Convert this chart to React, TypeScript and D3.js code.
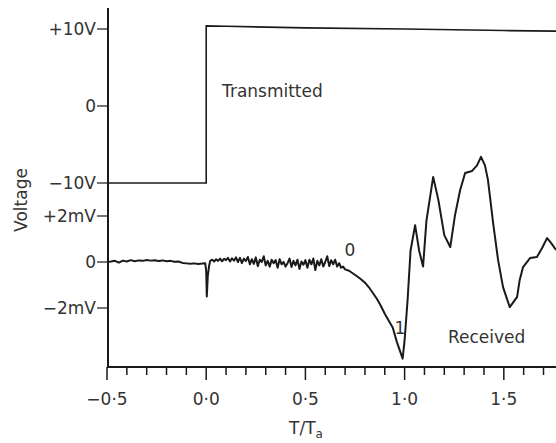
import React from "react";
import * as d3 from "d3";

const W = 556;
const H = 443;

// Transmitted signal (T/Ta, volts)
const transT = [-0.5, 0.0, 0.0, 0.1, 0.5, 1.0, 1.5, 1.763];
const transV = [-10, -10, 10.4, 10.35, 10.15, 10.0, 9.8, 9.72];

// Received signal (T/Ta, mV)
const recvT = [
  -0.5, -0.48, -0.46, -0.44, -0.42, -0.4, -0.38, -0.36, -0.34, -0.32, -0.3, -0.28, -0.26, -0.24, -0.22, -0.2,
  -0.18, -0.16, -0.14, -0.12, -0.1, -0.08, -0.06, -0.04, -0.02, -0.005, 0.0, 0.003, 0.008, 0.015,
  0.02, 0.03, 0.04, 0.05, 0.06, 0.07, 0.08, 0.09, 0.1, 0.11, 0.12, 0.13, 0.14, 0.15, 0.16, 0.17, 0.18, 0.19,
  0.2, 0.21, 0.22, 0.23, 0.24, 0.25, 0.26, 0.27, 0.28, 0.29, 0.3, 0.31, 0.32, 0.33, 0.34, 0.35, 0.36, 0.37,
  0.38, 0.39, 0.4, 0.41, 0.42, 0.43, 0.44, 0.45, 0.46, 0.47, 0.48, 0.49, 0.5, 0.51, 0.52, 0.53, 0.54, 0.55,
  0.56, 0.57, 0.58, 0.59, 0.6, 0.61, 0.62, 0.63, 0.64, 0.65, 0.66, 0.67, 0.68, 0.69, 0.7,
  0.72, 0.74, 0.76, 0.78, 0.8, 0.82, 0.84, 0.86, 0.88, 0.9, 0.92, 0.94, 0.96, 0.98, 0.99, 1.0, 1.015, 1.03,
  1.053, 1.073, 1.093, 1.11, 1.144, 1.17, 1.2, 1.23, 1.254, 1.28, 1.305, 1.34, 1.365, 1.385, 1.405, 1.42,
  1.446, 1.471, 1.496, 1.53, 1.567, 1.58, 1.597, 1.632, 1.667, 1.693, 1.718, 1.738, 1.763,
];
const recvV = [
  0.0, 0.02, 0.05, -0.03, 0.06, 0.02, 0.08, 0.03, 0.07, 0.05, 0.09, 0.06, 0.08, 0.04, 0.07, 0.03,
  0.05, 0.01, 0.02, -0.04, -0.06, -0.08, -0.06, -0.09, -0.07, -0.05, -0.4, -1.5, -0.6, -0.15,
  0.05, 0.1, 0.02, 0.12, 0.05, 0.15, 0.03, 0.14, 0.08, 0.18, 0.02, 0.16, 0.06, 0.2, 0.0, 0.18, -0.05, 0.15,
  0.04, 0.22, -0.1, 0.12, -0.08, 0.2, -0.18, 0.1, 0.0, 0.25, -0.15, 0.05, -0.2, 0.1, -0.05, 0.08, -0.25, 0.12,
  -0.1, 0.0, -0.2, -0.05, 0.15, -0.22, 0.05, -0.15, 0.1, -0.3, 0.02, -0.12, 0.08, -0.25, 0.1, -0.1, 0.15, -0.35,
  0.05, -0.15, 0.12, -0.2, 0.0, 0.25, -0.18, 0.08, -0.1, 0.1, -0.2, -0.05, -0.25, -0.2, -0.32,
  -0.38, -0.5, -0.62, -0.75, -0.9, -1.1, -1.35, -1.6, -1.9, -2.25, -2.55, -2.85, -3.45, -3.95, -4.2, -3.4, -1.65, 0.5,
  1.6, 0.5, -0.2, 1.8, 3.7, 2.7, 1.17, 0.65, 2.04, 3.13, 3.87, 3.96, 4.2, 4.57, 4.2, 3.57,
  1.7, 0.09, -1.09, -1.96, -1.52, -0.78, -0.22, 0.17, 0.22, 0.61, 1.04, 0.83, 0.52,
];

const xMajorTicks = [-0.5, 0.0, 0.5, 1.0, 1.5];
const xMajorLabels = ["\u22120\u00b75", "0\u00b70", "0\u00b75", "1\u00b70", "1\u00b75"];
const xMinorTicks = [
  -0.4, -0.3, -0.2, -0.1, 0.1, 0.2, 0.3, 0.4, 0.6, 0.7, 0.8, 0.9, 1.1, 1.2, 1.3, 1.4, 1.6, 1.7,
];
const voltTicks = [10, 0, -10];
const voltLabels = ["+10V", "0", "\u221210V"];
const mvTicks = [2, 0, -2];
const mvLabels = ["+2mV", "0", "\u22122mV"];

const FONT = "'DejaVu Sans', sans-serif";
const INK = "#1a1a1a";

export default function App() {
  const axisX = 108;
  const axisY = 367;
  const x = d3.scaleLinear().domain([-0.5, 1.763]).range([107, 556]);
  const yV = d3.scaleLinear().domain([-10, 10]).range([183, 29]);
  const yMv = d3.scaleLinear().domain([-2, 2]).range([308, 216]);

  const transData = transT.map((t, i) => [t, transV[i]] as [number, number]);
  const recvData = recvT.map((t, i) => [t, recvV[i]] as [number, number]);

  const transLine = d3
    .line<[number, number]>()
    .x((d) => x(d[0]))
    .y((d) => yV(d[1]));
  const recvLine = d3
    .line<[number, number]>()
    .x((d) => x(d[0]))
    .y((d) => yMv(d[1]));

  return (
    <div style={{ position: "absolute", left: 0, top: 0 }}>
      <svg width={W} height={H} style={{ display: "block", background: "#fff" }}>
        {/* axes */}
        <line x1={axisX} y1={8} x2={axisX} y2={axisY} stroke={INK} strokeWidth={2} />
        <line x1={axisX - 1} y1={axisY} x2={W} y2={axisY} stroke={INK} strokeWidth={2} />

        {/* x ticks */}
        {xMinorTicks.map((t) => (
          <line key={"mi" + t} x1={x(t)} x2={x(t)} y1={axisY} y2={axisY + 8} stroke={INK} strokeWidth={1.5} />
        ))}
        {xMajorTicks.map((t, i) => (
          <g key={"ma" + t}>
            <line x1={x(t)} x2={x(t)} y1={axisY} y2={axisY + 13} stroke={INK} strokeWidth={1.5} />
            <text x={x(t)} y={405} textAnchor="middle" fontFamily={FONT} fontSize={17} fill="#333">
              {xMajorLabels[i]}
            </text>
          </g>
        ))}
        <text x={306} y={434} textAnchor="middle" fontFamily={FONT} fontSize={17} fill="#333">
          T/T
          <tspan fontSize={12} dy={4}>a</tspan>
        </text>

        {/* y ticks: volts */}
        {voltTicks.map((v, i) => (
          <g key={"v" + v}>
            <line x1={axisX - 11} x2={axisX} y1={yV(v)} y2={yV(v)} stroke={INK} strokeWidth={1.2} />
            <text x={axisX - 12} y={yV(v) + 6} textAnchor="end" fontFamily={FONT} fontSize={17} fill="#333">
              {voltLabels[i]}
            </text>
          </g>
        ))}
        {/* y ticks: mV */}
        {mvTicks.map((v, i) => (
          <g key={"m" + v}>
            <line x1={axisX - 11} x2={axisX} y1={yMv(v)} y2={yMv(v)} stroke={INK} strokeWidth={1.2} />
            <text x={axisX - 12} y={yMv(v) + 6} textAnchor="end" fontFamily={FONT} fontSize={17} fill="#333">
              {mvLabels[i]}
            </text>
          </g>
        ))}
        <text
          transform="translate(27,200) rotate(-90)"
          textAnchor="middle"
          fontFamily={FONT}
          fontSize={17}
          fill="#333"
        >
          Voltage
        </text>

        {/* data */}
        <path d={transLine(transData) || ""} fill="none" stroke={INK} strokeWidth={1.6} />
        <path d={recvLine(recvData) || ""} fill="none" stroke={INK} strokeWidth={2} strokeLinejoin="round" />

        {/* annotations */}
        <text x={222} y={97} fontFamily={FONT} fontSize={17} fill="#333">
          Transmitted
        </text>
        <text x={448} y={343} fontFamily={FONT} fontSize={17} fill="#333">
          Received
        </text>
        <text x={350} y={256} textAnchor="middle" fontFamily={FONT} fontSize={17} fill="#333">
          0
        </text>
        <text x={400} y={334} textAnchor="middle" fontFamily={FONT} fontSize={17} fill="#333">
          1
        </text>
      </svg>
    </div>
  );
}
